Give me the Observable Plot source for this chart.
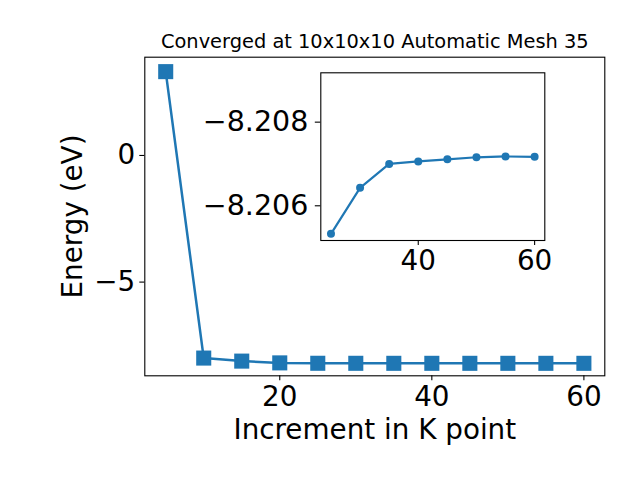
<!DOCTYPE html>
<html>
<head>
<meta charset="utf-8">
<script src="https://cdn.jsdelivr.net/npm/d3@7"></script>
<script src="https://cdn.jsdelivr.net/npm/@observablehq/plot@0.6"></script>
<style>
  html, body { margin: 0; padding: 0; background: white; }
  #wrap { position: relative; width: 640px; height: 480px; }
  #inset { position: absolute; left: 180px; top: 60px; width: 380px; height: 230px; }
</style>
</head>
<body>
<div id="wrap"><div id="main"></div><div id="inset"></div></div>
<script>
const kPoints = [5, 10, 15, 20, 25, 30, 35, 40, 45, 50, 55, 60];
const energies = [3.31, -8.00, -8.12, -8.19, -8.20533, -8.20643, -8.20700, -8.20706, -8.20711, -8.20716, -8.20718, -8.20717];
const insetK = [25, 30, 35, 40, 45, 50, 55, 60];
const insetEnergies = [-8.20533, -8.20643, -8.20700, -8.20706, -8.20711, -8.20716, -8.20718, -8.20717];
const mainXTicks = [20, 40, 60];
const mainYTicks = [-5, 0];
const insetXTicks = [40, 60];
const insetYTicks = [-8.208, -8.206];
const titleText = "Converged at 10x10x10 Automatic Mesh 35";
const xLabel = "Increment in K point";
const yLabel = "Energy (eV)";

const mainData = kPoints.map((k, i) => ({k, e: energies[i]}));
const insetData = insetK.map((k, i) => ({k, e: insetEnergies[i]}));
const blue = "#1f77b4";
const fmt = d => d3.format(".3f")(d);
const intFmt = d => d3.format("d")(d);

const main = Plot.plot({
  width: 640, height: 480,
  marginLeft: 144.3, marginRight: 35.7, marginTop: 56.7, marginBottom: 104.7,
  style: {fontFamily: "DejaVu Sans", fontSize: "27.8px", color: "black", background: "white"},
  x: {domain: [2.25, 62.75]},
  y: {domain: [-8.70, 3.88]},
  marks: [
    Plot.frame({stroke: "black", strokeWidth: 1.1}),
    Plot.axisX({ticks: mainXTicks, tickFormat: intFmt, tickSize: 5, tickPadding: 5, label: null, strokeWidth: 1.1, fontSize: 27.8}),
    Plot.axisY({ticks: mainYTicks, tickFormat: intFmt, tickSize: 5, tickPadding: 4.5, label: null, strokeWidth: 1.1, fontSize: 27.8}),
    Plot.line(mainData, {x: "k", y: "e", stroke: blue, strokeWidth: 2.5}),
    Plot.dot(mainData, {x: "k", y: "e", symbol: "square", r: 8.5, fill: blue, stroke: "none"}),
    Plot.text([titleText], {frameAnchor: "top", textAnchor: "middle", lineAnchor: "middle", dy: -15.2, fontSize: 19.4, fill: "black"}),
    Plot.text([xLabel], {frameAnchor: "bottom", textAnchor: "middle", lineAnchor: "middle", dy: 54.3, fontSize: 27.8, fill: "black"}),
    Plot.text([yLabel], {frameAnchor: "left", textAnchor: "middle", lineAnchor: "middle", dx: -71.5, rotate: -90, fontSize: 27.8, fill: "black"})
  ]
});
document.getElementById("main").appendChild(main);

const inset = Plot.plot({
  width: 380, height: 230,
  marginLeft: 140.3, marginRight: 15.7, marginTop: 12.3, marginBottom: 50,
  style: {fontFamily: "DejaVu Sans", fontSize: "27.8px", color: "black", background: "transparent"},
  x: {domain: [23.25, 61.75]},
  y: {domain: [-8.20517, -8.20918]},
  marks: [
    Plot.frame({fill: "white", stroke: "black", strokeWidth: 1.1}),
    Plot.axisX({ticks: insetXTicks, tickFormat: intFmt, tickSize: 5, tickPadding: 5, label: null, strokeWidth: 1.1, fontSize: 27.8}),
    Plot.axisY({ticks: insetYTicks, tickFormat: fmt, tickSize: 5.5, tickPadding: 7, label: null, strokeWidth: 1.1, fontSize: 28.5}),
    Plot.line(insetData, {x: "k", y: "e", stroke: blue, strokeWidth: 2.2}),
    Plot.dot(insetData, {x: "k", y: "e", r: 4, fill: blue, stroke: "none"})
  ]
});
document.getElementById("inset").appendChild(inset);
</script>
</body>
</html>
